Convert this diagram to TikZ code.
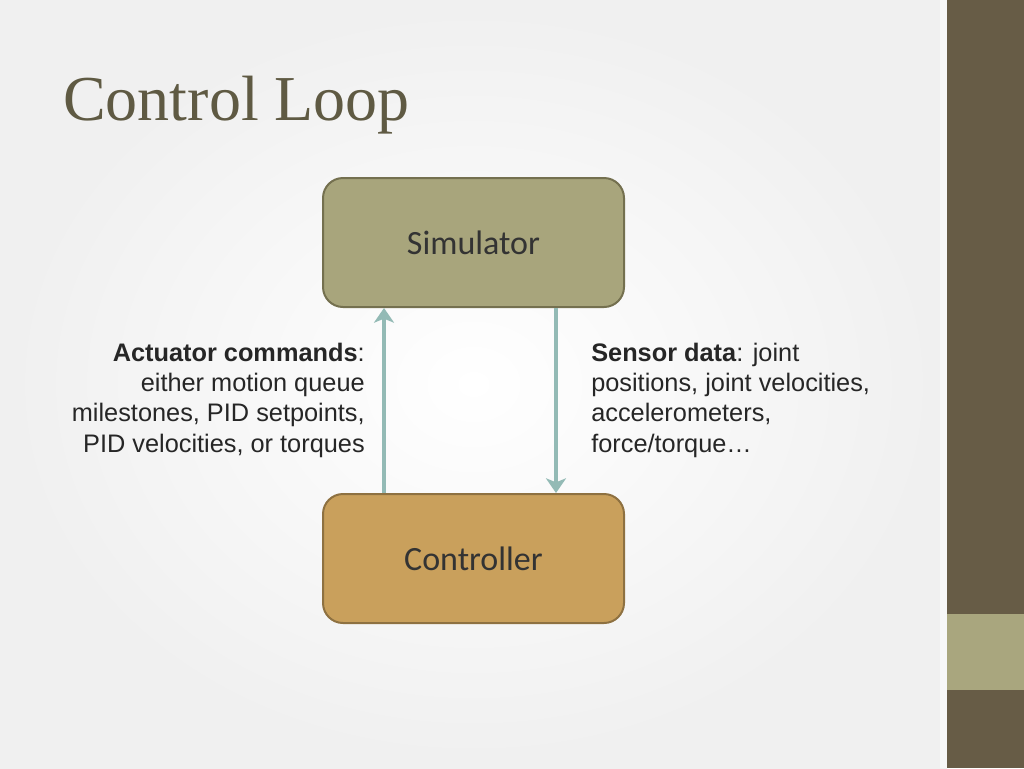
\documentclass[tikz,border=0pt]{standalone}
\usepackage{fontspec}
\setmainfont{Liberation Sans}
\newfontfamily\boxfont{Carlito}
\newfontfamily\titlefont{Liberation Serif}
\usetikzlibrary{positioning,calc,arrows.meta}
\definecolor{simfill}{HTML}{A8A57C}
\definecolor{simline}{HTML}{74704F}
\definecolor{ctrlfill}{HTML}{C9A05C}
\definecolor{ctrlline}{HTML}{8E7141}
\definecolor{arrowcol}{HTML}{93BAB5}
\definecolor{titlecol}{HTML}{5F5A43}
\definecolor{textcol}{HTML}{262626}
\definecolor{bardark}{HTML}{675C46}
\definecolor{barlight}{HTML}{A9A67E}
\tikzset{block/.style={rectangle,rounded corners=15pt,line width=1.5pt,
    minimum width=225.75pt,minimum height=96.75pt,inner sep=0pt,
    font=\boxfont\fontsize{25.5}{30}\selectfont,text=black!80},
  flow/.style={arrowcol,line width=3pt,-{Stealth[length=11pt,width=15pt,inset=3pt]}},
  note/.style={inner sep=0pt,text=textcol,font=\fontsize{19}{22.7}\selectfont},
}

\begin{document}
\begin{tikzpicture}[x=0.75pt,y=-0.75pt]
	\useasboundingbox (0,0) rectangle (1024,768);
	\shade[inner color=white,outer color=black!6] (0,0) rectangle (947,768);
	\fill[white,opacity=0.5] (940,0) rectangle (947,768);
	\fill[bardark] (947,0) rectangle (1024,768);
	\fill[barlight] (947,614) rectangle (1024,690);
	
	\node[anchor=base west,inner sep=0pt,text=titlecol,
	  font=\titlefont\fontsize{48}{56}\selectfont] (title) at (63,120) {Control Loop};
	
	\node[block,fill=simfill,draw=simline] (sim) at (473.5,242.5) {Simulator};
	\node[block,fill=ctrlfill,draw=ctrlline] (ctrl) at (473.5,558.5) {Controller};
	
	\draw[flow] ($(ctrl.north)+(-89.5,0)$) -- ($(sim.south)+(-89.5,0)$);
	\draw[flow] ($(sim.south)+(82.5,0)$) -- ($(ctrl.north)+(82.5,0)$);
	
	\node[note,anchor=base east,align=right] (act) at (365,452)
	  {\textbf{Actuator commands}:\\either motion queue\\milestones, PID setpoints,\\PID velocities, or torques};
	\node[note,anchor=base west,align=left] (sens) at (591,452)
	  {\textbf{Sensor data}: joint\\positions, joint velocities,\\accelerometers,\\force/torque\ldots};
\end{tikzpicture}
\end{document}
